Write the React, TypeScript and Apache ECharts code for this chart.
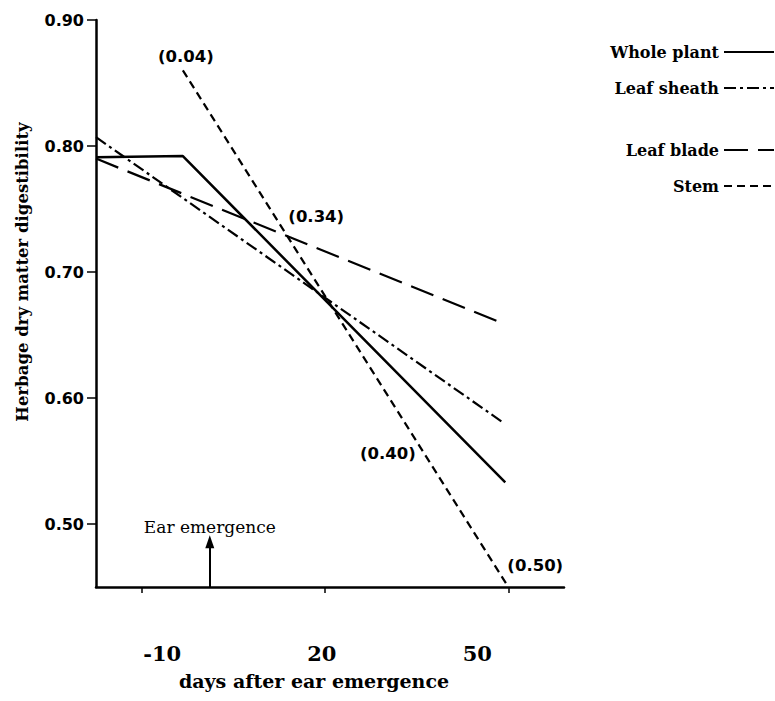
import React, { useEffect, useRef } from "react";
import * as echarts from "echarts";

// ---- data ----
const xTicks = [-10, 20, 50];
const xTickLabels = ["-10", "20", "50"];
const yTicks = [0.5, 0.6, 0.7, 0.8, 0.9];
const yTickLabels = ["0.50", "0.60", "0.70", "0.80", "0.90"];

const wholePlantX = [-17.4, -3.2, 49.5];
const wholePlantY = [0.791, 0.792, 0.533];
const leafSheathX = [-17.4, 49.0];
const leafSheathY = [0.807, 0.581];
const leafBladeX = [-17.4, 49.2];
const leafBladeY = [0.79, 0.659];
const stemX = [-3.2, 50.0];
const stemY = [0.86, 0.45];

const noteTexts = ["(0.04)", "(0.34)", "(0.40)", "(0.50)"];
const noteX = [-2.7, 18.6, 30.3, 54.4];
const noteY = [0.871, 0.744, 0.556, 0.467];

const earEmergenceDay = 1.2;
const earArrowTip = 0.486;
const earLabel = "Ear emergence";

const xMin = -17.4;
const xMax = 59.1;
const yMin = 0.45;
const yMax = 0.9;

const zip = (xs: number[], ys: number[]) => xs.map((x, i) => [x, ys[i]]);

export default function App() {
  const ref = useRef<HTMLDivElement>(null);
  useEffect(() => {
    if (!ref.current) return;
    const chart = echarts.init(ref.current, null, { renderer: "svg" });
    const black = "#000";
    const serif = "DejaVu Serif";
    const sans = "DejaVu Sans";
    const legendText = {
      color: black,
      fontFamily: serif,
      fontWeight: "bold" as const,
      fontSize: 16,
      lineHeight: 18,
    };
    const legendCommon = {
      orient: "vertical",
      align: "right",
      right: 0,
      padding: 0,
      itemWidth: 50,
      itemHeight: 14,
      itemGap: 18,
      selectedMode: false,
      itemStyle: { color: "rgba(0,0,0,0)", borderColor: "rgba(0,0,0,0)", borderWidth: 0 },
      textStyle: legendText,
    };
    chart.setOption({
      animation: false,
      backgroundColor: "#fff",
      grid: { left: 96, top: 20, width: 468, height: 567, containLabel: false },
      legend: [
        { ...legendCommon, data: ["Whole plant", "Leaf sheath"], top: 43 },
        { ...legendCommon, data: ["Leaf blade", "Stem"], top: 141 },
      ],
      xAxis: {
        type: "value",
        min: xMin,
        max: xMax,
        splitLine: { show: false },
        axisLine: { show: true, onZero: false, lineStyle: { color: black, width: 2.5 } },
        axisTick: {
          show: true,
          customValues: xTicks,
          length: 6,
          lineStyle: { color: black, width: 1.5 },
        },
        axisLabel: {
          customValues: xTicks,
          margin: 56,
          formatter: (v: number) => {
            const i = xTicks.indexOf(v);
            const t = i >= 0 ? xTickLabels[i] : String(v);
            if (i === 0) return `{l|${t}}`;
            if (i === 2) return `{r|${t}}`;
            return `{c|${t}}`;
          },
          rich: {
            l: { padding: [0, 0, 0, 42], fontFamily: serif, fontWeight: "bold", fontSize: 21, color: black },
            c: { padding: [0, 6, 0, 0], fontFamily: serif, fontWeight: "bold", fontSize: 21, color: black },
            r: { padding: [0, 62, 0, 0], fontFamily: serif, fontWeight: "bold", fontSize: 21, color: black },
          },
        },
      },
      yAxis: {
        type: "value",
        min: yMin,
        max: yMax,
        splitLine: { show: false },
        axisLine: { show: true, onZero: false, lineStyle: { color: black, width: 2.5 } },
        axisTick: {
          show: true,
          customValues: yTicks,
          length: 9,
          lineStyle: { color: black, width: 1.5 },
        },
        axisLabel: {
          customValues: yTicks,
          margin: 12,
          color: black,
          fontFamily: sans,
          fontWeight: "bold",
          fontSize: 16,
          formatter: (v: number) => {
            const i = yTicks.findIndex((t) => Math.abs(t - v) < 1e-9);
            return i >= 0 ? yTickLabels[i] : v.toFixed(2);
          },
        },
      },
      graphic: [
        {
          type: "text",
          x: 22,
          y: 272,
          rotation: Math.PI / 2,
          style: {
            text: "Herbage dry matter digestibility",
            fill: black,
            font: `bold 16.5px "${serif}"`,
            align: "center",
            verticalAlign: "middle",
          },
        },
        {
          type: "text",
          x: 314,
          y: 681,
          style: {
            text: "days after ear emergence",
            fill: black,
            font: `bold 19px "${serif}"`,
            align: "center",
            verticalAlign: "middle",
          },
        },
      ],
      series: [
        {
          name: "Whole plant",
          type: "line",
          data: zip(wholePlantX, wholePlantY),
          symbol: "none",
          color: black,
          lineStyle: { color: black, width: 2.5, type: "solid" },
          emphasis: { disabled: true },
        },
        {
          name: "Leaf sheath",
          type: "line",
          data: zip(leafSheathX, leafSheathY),
          symbol: "none",
          color: black,
          lineStyle: { color: black, width: 2.2, type: [12, 4, 3, 4] },
          emphasis: { disabled: true },
        },
        {
          name: "Leaf blade",
          type: "line",
          data: zip(leafBladeX, leafBladeY),
          symbol: "none",
          color: black,
          lineStyle: { color: black, width: 2.2, type: [24, 10] },
          emphasis: { disabled: true },
        },
        {
          name: "Stem",
          type: "line",
          data: zip(stemX, stemY),
          symbol: "none",
          color: black,
          lineStyle: { color: black, width: 2.2, type: [8, 5] },
          emphasis: { disabled: true },
        },
        {
          name: "notes",
          type: "scatter",
          symbol: "circle",
          symbolSize: 0,
          itemStyle: { color: black, opacity: 1 },
          data: noteTexts.map((t, i) => ({ name: t, value: [noteX[i], noteY[i]] })),
          label: {
            show: true,
            position: "inside",
            formatter: (p: any) => p.name,
            color: black,
            opacity: 1,
            textBorderWidth: 0,
            fontFamily: sans,
            fontWeight: "bold",
            fontSize: 16.5,
          },
          emphasis: { disabled: true },
          silent: true,
          markLine: {
            silent: true,
            symbol: ["none", "triangle"],
            symbolSize: [9, 13],
            lineStyle: { color: black, width: 2, type: "solid", opacity: 1 },
            itemStyle: { color: black },
            label: {
              show: true,
              position: "end",
              formatter: earLabel,
              distance: 6,
              color: black,
              fontFamily: serif,
              fontSize: 17,
            },
            data: [
              [
                { coord: [earEmergenceDay, yMin] },
                { coord: [earEmergenceDay, earArrowTip] },
              ],
            ],
          },
        },
      ],
    });
    return () => chart.dispose();
  }, []);
  return (
    <div
      ref={ref}
      style={{ position: "absolute", left: 0, top: 0, width: 775, height: 701, background: "#fff" }}
    />
  );
}
